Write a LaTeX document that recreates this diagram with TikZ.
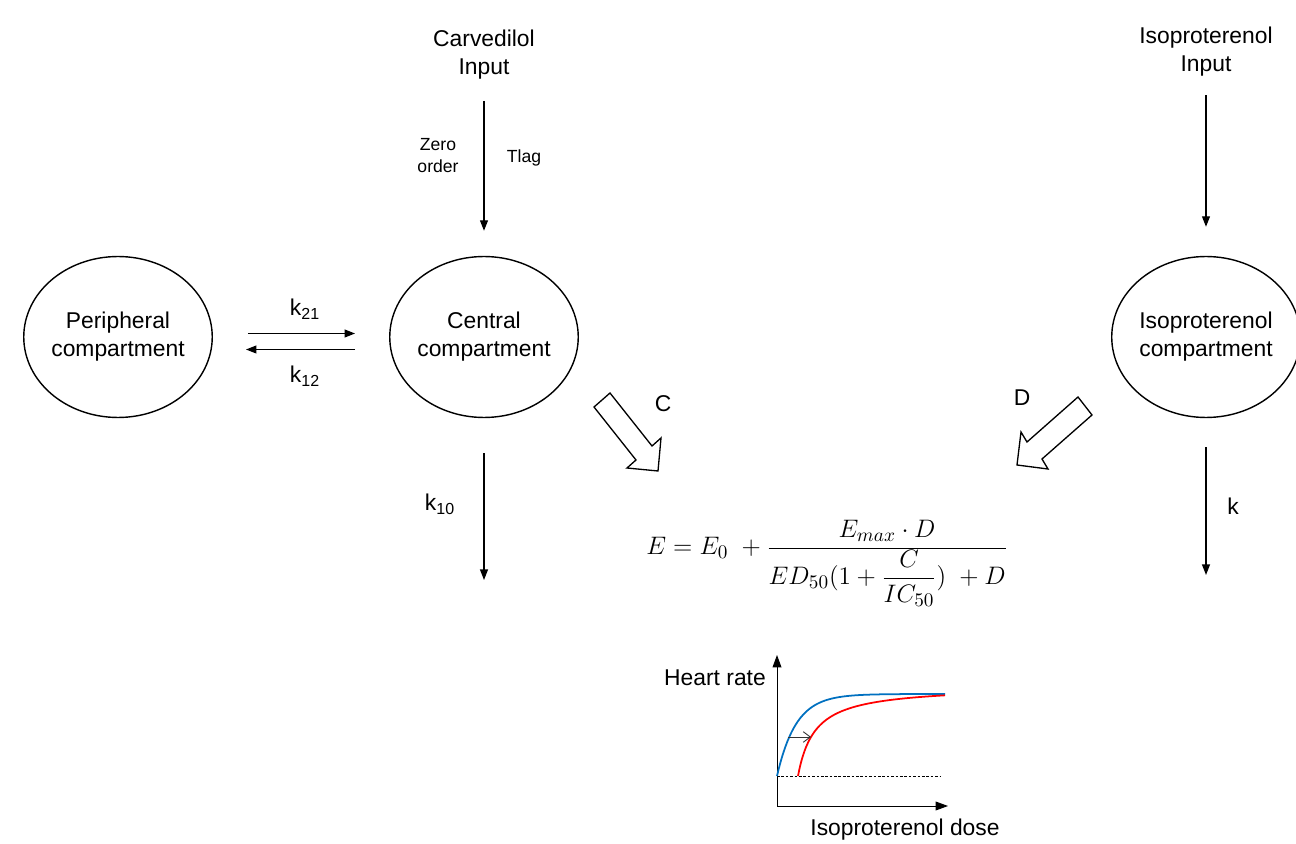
\documentclass[tikz,border=0pt]{standalone}
\usepackage{fontspec}
\setmainfont{Liberation Sans}
\usetikzlibrary{positioning,arrows.meta,shapes.geometric}
\definecolor{colControl}{HTML}{0070C0}
\definecolor{colCarvedilol}{HTML}{FF0000}

\begin{document}
\begin{tikzpicture}[x=0.02cm, y=-0.02cm, font=\fontsize{13}{16}\selectfont,
    compartment/.style={draw, ellipse, line width=0.8pt, minimum width=3.76cm, minimum height=3.22cm, align=center, inner sep=0pt},
    flow/.style={-{Triangle[length=6pt,width=4.5pt]}, line width=0.75pt},
    hollowArrow/.style={draw, line width=0.75pt, fill=white, line join=miter},
    smallLabel/.style={font=\fontsize{10}{12.5}\selectfont, align=center}]
    \useasboundingbox (0,0) rectangle (1296,844);

    % Compartimentos
    \node[compartment] (periph) at (118,337) {Peripheral\\compartment};
    \node[compartment] (central) at (484,337) {Central\\compartment};
    \node[compartment] (iso) at (1206,337) {Isoproterenol\\compartment};

    % Entradas
    \node[align=center] (carvIn) at (484,55) {Carvedilol\\Input};
    \node[align=center] (isoIn) at (1206,52) {Isoproterenol\\Input};
    \draw[flow, shorten <=0.3cm, shorten >=0.5cm] (carvIn.south) -- (central.north);
    \draw[flow, shorten <=0.25cm, shorten >=0.58cm] (isoIn.south) -- (iso.north);
    \node[smallLabel] (zeroOrd) at (438,156) {Zero\\order};
    \node[smallLabel] (tlag) at (524,158) {Tlag};

    % Distribucion
    \draw[flow, shorten <=0.7cm, shorten >=0.68cm] ([yshift=0.07cm]periph.east) -- ([yshift=0.07cm]central.west);
    \draw[flow, shorten <=0.68cm, shorten >=0.66cm] ([yshift=-0.25cm]central.west) -- ([yshift=-0.25cm]periph.east);
    \node (k21) at (305,309) {k\textsubscript{21}};
    \node (k12) at (305,376) {k\textsubscript{12}};

    % Eliminacion
    \coordinate (k10End) at (484,580);
    \coordinate (kEnd) at (1206,575);
    \draw[flow, shorten <=0.7cm] (central.south) -- (k10End);
    \draw[flow, shorten <=0.58cm] (iso.south) -- (kEnd);
    \node (k10) at (440,504) {k\textsubscript{10}};
    \node (kIso) at (1233,506) {k};

    % Flechas huecas
    \draw[hollowArrow] (594,407) -- (610,393) -- (652,446) -- (661,438) -- (658,471) -- (627,468) -- (636,460) -- cycle;
    \draw[hollowArrow] (1078,397) -- (1092,415) -- (1042,459) -- (1048,469) -- (1017,465) -- (1021,432) -- (1027,442) -- cycle;
    \node (cLab) at (663,404) {C};
    \node (dLab) at (1022,398) {D};

    % Modelo
    \node[font=\fontsize{15.5}{18}\selectfont] (model) at (827,563)
        {$\displaystyle E = E_0\ + \frac{E_{max}\cdot D}{ED_{50}(1+{\displaystyle\frac{C}{IC_{50}}})\ + D}$};

    % Grafica
    \coordinate (gOrig) at (777,806);
    \coordinate (gTop) at (777,655);
    \coordinate (gRight) at (948,806);
    \draw[-{Triangle[length=7pt,width=5pt]}, line width=0.5pt] (gOrig) -- (gTop);
    \draw[-{Triangle[length=7pt,width=5pt]}, line width=0.5pt] (gOrig) -- (gRight);
    \draw[dashed, dash pattern=on 1.5pt off 1pt, line width=0.5pt] (777,776) -- (941,776);
    \draw[colControl, line width=1pt] plot[domain=0:168, samples=90, smooth] ({777+\x},{776-82*(1-exp(-\x/19))});
    \draw[colCarvedilol, line width=1pt] plot[domain=0:147, samples=90, smooth] ({798+\x},{776-90*\x/(\x+17)});
    \draw[-{Straight Barb[length=4pt,width=6pt]}, line width=0.5pt, black!80] (788,737) -- (811,737);
    \node[anchor=east] (hrLab) at (772,678) {Heart rate};
    \node (doseLab) at (905,830) {Isoproterenol dose};
\end{tikzpicture}
\end{document}
